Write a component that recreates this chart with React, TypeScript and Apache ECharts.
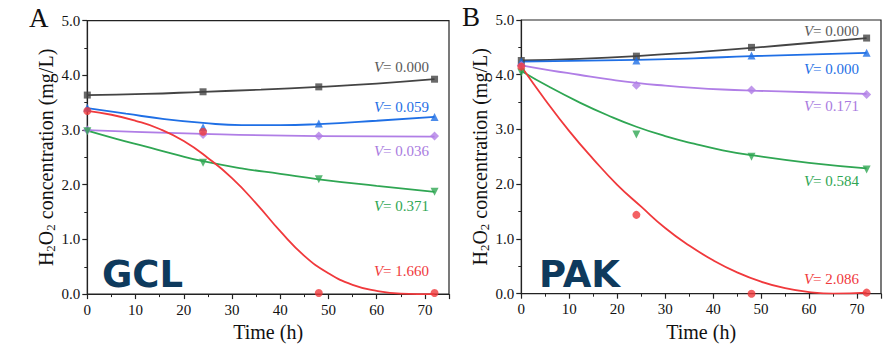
import React, { useEffect, useRef } from "react";
import * as echarts from "echarts";

// ---------- data ----------
const times = [0, 24, 48, 72];
const yTicks = [0, 1, 2, 3, 4, 5];

// Panel A (GCL) measured points
const gclBlack = [3.64, 3.70, 3.79, 3.93];
const gclBlue = [3.41, 3.05, 3.12, 3.24];
const gclPurple = [3.0, 2.92, 2.89, 2.89];
const gclGreen = [2.98, 2.40, 2.10, 1.87];
const gclRed = [3.35, 2.97, 0.02, 0.02];

// Panel A fitted curves
const gclFitBlack = [[0, 3.64], [12, 3.66], [24, 3.70], [36, 3.74], [48, 3.79], [60, 3.85], [72, 3.93]];
const gclFitBlue = [[0, 3.40], [8, 3.30], [16, 3.20], [24, 3.13], [32, 3.09], [40, 3.09], [48, 3.11], [60, 3.17], [72, 3.24]];
const gclFitPurple = [[0, 3.00], [24, 2.93], [48, 2.89], [72, 2.88]];
const gclFitGreen = [[0, 2.99], [6, 2.84], [12, 2.70], [18, 2.56], [24, 2.43], [32, 2.30], [40, 2.20], [48, 2.10], [60, 1.98], [72, 1.87]];
const gclFitRed = [[0, 3.35], [5, 3.28], [10, 3.17], [15, 3.02], [20, 2.80], [25, 2.49], [30, 2.12], [35, 1.66], [40, 1.15], [45, 0.70], [50, 0.38], [55, 0.17], [60, 0.06], [65, 0.01], [72, 0.0]];

// Panel B (PAK) measured points
const pakBlack = [4.26, 4.34, 4.50, 4.67];
const pakBlue = [4.24, 4.26, 4.35, 4.40];
const pakPurple = [4.17, 3.81, 3.72, 3.64];
const pakGreen = [4.04, 2.91, 2.50, 2.27];
const pakRed = [4.15, 1.44, 0.0, 0.02];

// Panel B fitted curves
const pakFitBlack = [[0, 4.26], [12, 4.29], [24, 4.34], [36, 4.41], [48, 4.49], [60, 4.58], [72, 4.67]];
const pakFitBlue = [[0, 4.24], [24, 4.27], [36, 4.30], [48, 4.34], [72, 4.40]];
const pakFitPurple = [[0, 4.17], [6, 4.08], [12, 4.00], [18, 3.92], [24, 3.85], [30, 3.80], [36, 3.76], [42, 3.73], [48, 3.71], [60, 3.68], [72, 3.65]];
const pakFitGreen = [[0, 4.07], [6, 3.77], [12, 3.50], [18, 3.26], [24, 3.05], [30, 2.88], [36, 2.74], [42, 2.62], [48, 2.53], [60, 2.39], [72, 2.29]];
const pakFitRed = [[0, 4.15], [5, 3.54], [10, 2.97], [15, 2.46], [20, 1.99], [25, 1.59], [30, 1.20], [35, 0.88], [40, 0.61], [45, 0.39], [50, 0.22], [55, 0.10], [60, 0.03], [65, 0.0], [72, 0.02]];

const gclLabels = ["0.000", "0.059", "0.036", "0.371", "1.660"];
const pakLabels = ["0.000", "0.000", "0.171", "0.584", "2.086"];

// ---------- styles ----------
const SERIF = "Liberation Serif";
const COLORS = ["#444444", "#1f6fe5", "#b07ee6", "#2fa653", "#f0393c"];
const LABEL_COLORS = ["#5a5a5a", "#1f6fe5", "#a97be0", "#2fa653", "#f0393c"];
const SYMBOLS = ["rect", "triangle", "diamond", "triangle", "circle"];
const ROTATE = [0, 0, 0, 180, 0];

const makeAxes = (gi: number) => {
  const x = {
    type: "value",
    gridIndex: gi,
    min: 0,
    max: 75,
    interval: 10,
    name: "Time (h)",
    nameLocation: "middle",
    nameGap: 27,
    nameTextStyle: { fontFamily: SERIF, fontSize: 20, color: "#111" },
    axisLine: { show: true, onZero: false, lineStyle: { color: "#222", width: 1.2 } },
    axisTick: { show: true, inside: false, length: 5, lineStyle: { color: "#222", width: 1.2 } },
    minorTick: { show: true, splitNumber: 2, length: 3, lineStyle: { color: "#222", width: 1 } },
    axisLabel: {
      fontFamily: SERIF,
      fontSize: 15,
      color: "#111",
      margin: 8,
      formatter: (v: number) => (v % 10 === 0 ? String(v) : ""),
    },
    splitLine: { show: false },
  };
  const y = {
    type: "value",
    gridIndex: gi,
    min: 0,
    max: 5,
    interval: 1,
    name: "H{s|2}O{s|2} concentration (mg/L)",
    nameLocation: "middle",
    nameGap: 30,
    nameTextStyle: {
      fontFamily: SERIF,
      fontSize: 20,
      color: "#111",
      rich: { s: { fontFamily: SERIF, fontSize: 13, color: "#111", padding: [10, 0, 0, 0] } },
    },
    axisLine: { show: true, onZero: false, lineStyle: { color: "#222", width: 1.2 } },
    axisTick: { show: true, inside: false, length: 5, lineStyle: { color: "#222", width: 1.2 } },
    minorTick: { show: true, splitNumber: 2, length: 3, lineStyle: { color: "#222", width: 1 } },
    axisLabel: {
      fontFamily: SERIF,
      fontSize: 15,
      color: "#111",
      margin: 7,
      formatter: (v: number) => (yTicks.includes(v) ? v.toFixed(1) : ""),
    },
    splitLine: { show: false },
  };
  return { x, y };
};

const buildSeries = (gi: number, pts: number[][], fits: number[][][]) => {
  const out: any[] = [];
  fits.forEach((f, i) => {
    out.push({
      type: "line",
      xAxisIndex: gi,
      yAxisIndex: gi,
      data: f,
      smooth: true,
      showSymbol: false,
      symbol: "none",
      lineStyle: { color: COLORS[i], width: 1.8 },
      z: 2,
    });
  });
  pts.forEach((p, i) => {
    out.push({
      type: "scatter",
      xAxisIndex: gi,
      yAxisIndex: gi,
      data: p.map((v, k) => [times[k], v]),
      symbol: SYMBOLS[i],
      symbolRotate: ROTATE[i],
      symbolSize: i === 0 ? 7 : i === 2 ? 9 : 8,
      itemStyle: { color: COLORS[i] },
      z: 3,
    });
  });
  return out;
};

const vLabel = (x: number, y: number, val: string, color: string) => ({
  type: "text",
  x,
  y,
  style: {
    text: "{i|V}{n|= " + val + "}",
    align: "right",
    verticalAlign: "middle",
    fontFamily: SERIF,
    fontSize: 15,
    fill: color,
    rich: {
      i: { fontStyle: "italic", fontFamily: SERIF, fontSize: 15, fill: color },
      n: { fontFamily: SERIF, fontSize: 15, fill: color },
    },
  },
  z: 10,
});

export default function App() {
  const ref = useRef<HTMLDivElement>(null);
  useEffect(() => {
    if (!ref.current) return;
    const chart = echarts.init(ref.current, undefined, { renderer: "svg" });
    const a0 = makeAxes(0);
    const a1 = makeAxes(1);
    const gclYs = [66.7, 107.3, 150.7, 206, 270.7];
    const pakYs = [30.7, 69, 105.7, 181, 279.3];
    const graphics: any[] = [];
    gclLabels.forEach((l, i) => graphics.push(vLabel(429, gclYs[i], l, LABEL_COLORS[i])));
    pakLabels.forEach((l, i) => graphics.push(vLabel(859, pakYs[i], l, LABEL_COLORS[i])));
    graphics.push({
      type: "text",
      x: 29,
      y: 18,
      style: { text: "A", fontFamily: SERIF, fontSize: 27, fill: "#111", verticalAlign: "middle" },
    });
    graphics.push({
      type: "text",
      x: 462,
      y: 17,
      style: { text: "B", fontFamily: SERIF, fontSize: 27, fill: "#111", verticalAlign: "middle" },
    });
    graphics.push({
      type: "text",
      x: 102,
      y: 274,
      style: { text: "GCL", fontFamily: "DejaVu Sans", fontWeight: "bold", fontSize: 37, fill: "#0e3a5d", verticalAlign: "middle" },
      z: 10,
    });
    graphics.push({
      type: "text",
      x: 539,
      y: 274,
      style: { text: "PAK", fontFamily: "DejaVu Sans", fontWeight: "bold", fontSize: 37, fill: "#0e3a5d", verticalAlign: "middle" },
      z: 10,
    });

    chart.setOption({
      animation: false,
      backgroundColor: "#ffffff",
      textStyle: { fontFamily: SERIF },
      grid: [
        { left: 87.3, top: 20.7, width: 361.7, height: 274, show: true, borderColor: "#222", borderWidth: 1.2, backgroundColor: "transparent" },
        { left: 521.3, top: 20, width: 361.8, height: 273.7, show: true, borderColor: "#222", borderWidth: 1.2, backgroundColor: "transparent" },
      ],
      xAxis: [a0.x, a1.x],
      yAxis: [a0.y, a1.y],
      series: [
        ...buildSeries(0, [gclBlack, gclBlue, gclPurple, gclGreen, gclRed], [gclFitBlack, gclFitBlue, gclFitPurple, gclFitGreen, gclFitRed]),
        ...buildSeries(1, [pakBlack, pakBlue, pakPurple, pakGreen, pakRed], [pakFitBlack, pakFitBlue, pakFitPurple, pakFitGreen, pakFitRed]),
      ],
      graphic: graphics,
    });
    return () => chart.dispose();
  }, []);
  return <div ref={ref} style={{ position: "fixed", left: 0, top: 0, width: 884, height: 347, background: "#fff" }} />;
}
